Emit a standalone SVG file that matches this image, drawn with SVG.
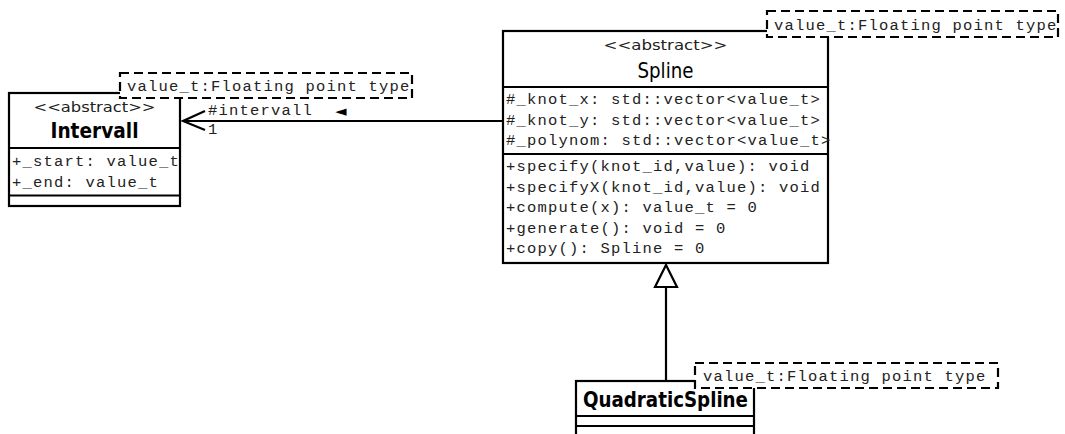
<svg xmlns="http://www.w3.org/2000/svg" width="1065" height="434" viewBox="0 0 1065 434">
<style>
.box{fill:#fff;stroke:#000;stroke-width:2.2}
.sep{stroke:#000;stroke-width:2.2}
.note{fill:#fff;stroke:#000;stroke-width:2.2;stroke-dasharray:9,5}
.mono{font-family:"Liberation Mono","Courier New",monospace;font-size:15.5px;letter-spacing:1.2px;fill:#222}
.stereo{font-family:"DejaVu Sans Condensed","DejaVu Sans",sans-serif;font-stretch:condensed;font-size:14px;fill:#222}
.name{font-family:"DejaVu Sans Condensed","DejaVu Sans",sans-serif;font-stretch:condensed;font-size:21px;fill:#000}
.bold{font-weight:bold}
.line{fill:none;stroke:#000;stroke-width:2.2}
</style>
<rect width="1065" height="434" fill="#fff"/>
<g id="connectors">
<line class="line" x1="503" y1="121" x2="183" y2="121"/>
<polyline class="line" points="205,111 183,121 205,130"/>
<text class="mono" x="208" y="115">#intervall</text>
<text x="335" y="116" style="font-family:'DejaVu Sans',sans-serif;font-size:15px">◄</text>
<text class="mono" x="208" y="134">1</text>
<line class="line" x1="666" y1="287" x2="666" y2="381"/>
<polygon points="666,265 655,287 677,287" fill="#fff" stroke="#000" stroke-width="2.2"/>
</g>
<g id="Intervall">
<rect class="box" x="9" y="93" width="171" height="113"/>
<line class="sep" x1="9" y1="148" x2="180" y2="148"/>
<line class="sep" x1="9" y1="195.5" x2="180" y2="195.5"/>
<text class="stereo" x="94.5" y="112" text-anchor="middle" textLength="122" lengthAdjust="spacingAndGlyphs">&lt;&lt;abstract&gt;&gt;</text>
<text class="name bold" x="94.5" y="138" text-anchor="middle" textLength="88" lengthAdjust="spacingAndGlyphs">Intervall</text>
<text class="mono" x="12" y="166">+_start: value_t</text>
<text class="mono" x="12" y="187">+_end: value_t</text>
</g>
<g id="Intervall-note">
<rect class="note" x="120" y="73" width="292" height="25"/>
<text class="mono" x="127" y="91">value_t:Floating point type</text>
</g>
<g id="Spline">
<rect class="box" x="503" y="31" width="325" height="232"/>
<line class="sep" x1="503" y1="87" x2="828" y2="87"/>
<line class="sep" x1="503" y1="154" x2="828" y2="154"/>
<text class="stereo" x="665.5" y="50" text-anchor="middle" textLength="124" lengthAdjust="spacingAndGlyphs">&lt;&lt;abstract&gt;&gt;</text>
<text class="name" x="665.5" y="78" text-anchor="middle" textLength="56" lengthAdjust="spacingAndGlyphs">Spline</text>
<text class="mono" x="506" y="104">#_knot_x: std::vector&lt;value_t&gt;</text>
<text class="mono" x="506" y="124.5">#_knot_y: std::vector&lt;value_t&gt;</text>
<text class="mono" x="506" y="145">#_polynom: std::vector&lt;value_t&gt;</text>
<text class="mono" x="506" y="171">+specify(knot_id,value): void</text>
<text class="mono" x="506" y="191.5">+specifyX(knot_id,value): void</text>
<text class="mono" x="506" y="212">+compute(x): value_t = 0</text>
<text class="mono" x="506" y="232.5">+generate(): void = 0</text>
<text class="mono" x="506" y="253">+copy(): Spline = 0</text>
</g>
<g id="Spline-note">
<rect class="note" x="767" y="11" width="291" height="26"/>
<text class="mono" x="774" y="30">value_t:Floating point type</text>
</g>
<g id="QuadraticSpline">
<rect class="box" x="576" y="381" width="178" height="60"/>
<line class="sep" x1="576" y1="416" x2="754" y2="416"/>
<line class="sep" x1="576" y1="426" x2="754" y2="426"/>
<text class="name bold" x="665.5" y="407" text-anchor="middle" textLength="165" lengthAdjust="spacingAndGlyphs">QuadraticSpline</text>
</g>
<g id="QuadraticSpline-note">
<rect class="note" x="695" y="363" width="303" height="25"/>
<text class="mono" x="703" y="381">value_t:Floating point type</text>
</g>
</svg>
